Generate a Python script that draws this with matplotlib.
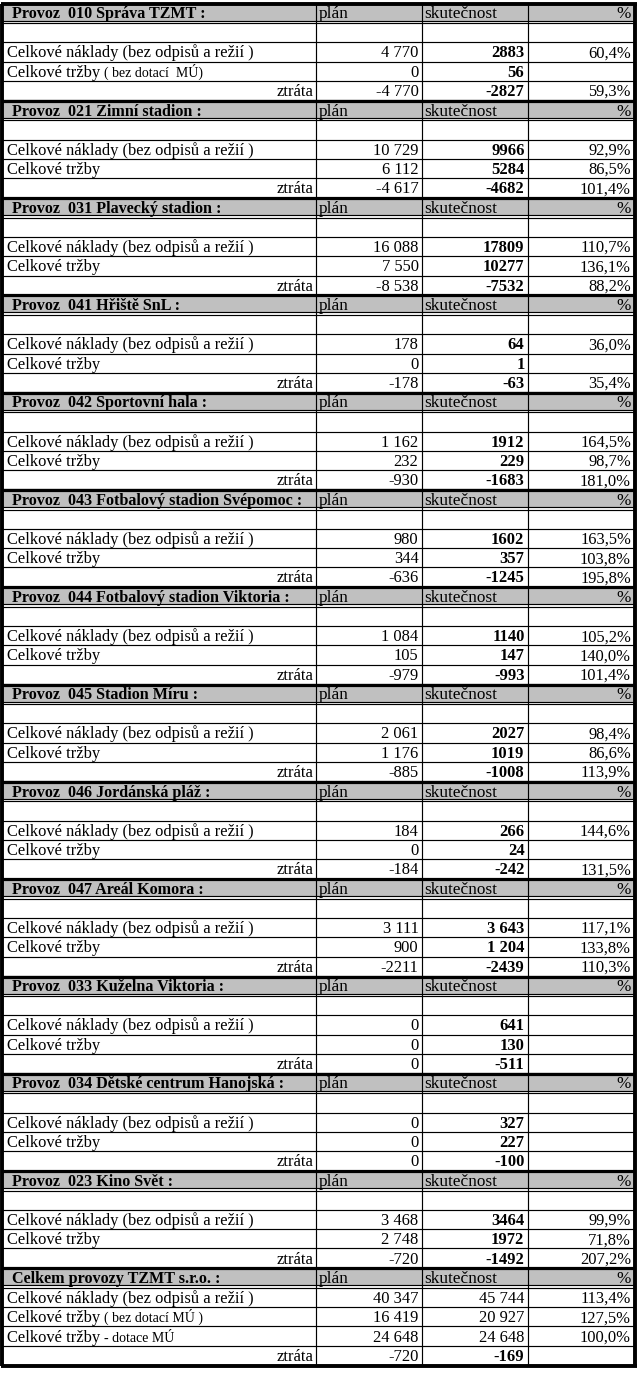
import matplotlib.pyplot as plt

plt.rcParams['font.family'] = ['Liberation Serif', 'DejaVu Serif']

# jednotlivé provozy
provozy = [
    "Provoz  010 Správa TZMT :",
    "Provoz  021 Zimní stadion :",
    "Provoz  031 Plavecký stadion :",
    "Provoz  041 Hřiště SnL :",
    "Provoz  042 Sportovní hala :",
    "Provoz  043 Fotbalový stadion Svépomoc :",
    "Provoz  044 Fotbalový stadion Viktoria :",
    "Provoz  045 Stadion Míru :",
    "Provoz  046 Jordánská pláž :",
    "Provoz  047 Areál Komora :",
    "Provoz  033 Kuželna Viktoria :",
    "Provoz  034 Dětské centrum Hanojská :",
    "Provoz  023 Kino Svět :",
]
naklady_plan = ["4 770", "10 729", "16 088", "178", "1 162", "980", "1 084",
                "2 061", "184", "3 111", "0", "0", "3 468"]
naklady_skut = ["2883", "9966", "17809", "64", "1912", "1602", "1140",
                "2027", "266", "3 643", "641", "327", "3464"]
naklady_pct = ["60,4%", "92,9%", "110,7%", "36,0%", "164,5%", "163,5%", "105,2%",
               "98,4%", "144,6%", "117,1%", "", "", "99,9%"]
trzby_plan = ["0", "6 112", "7 550", "0", "232", "344", "105",
              "1 176", "0", "900", "0", "0", "2 748"]
trzby_skut = ["56", "5284", "10277", "1", "229", "357", "147",
              "1019", "24", "1 204", "130", "227", "1972"]
trzby_pct = ["", "86,5%", "136,1%", "", "98,7%", "103,8%", "140,0%",
             "86,6%", "", "133,8%", "", "", "71,8%"]
ztrata_plan = ["-4 770", "-4 617", "-8 538", "-178", "-930", "-636", "-979",
               "-885", "-184", "-2211", "0", "0", "-720"]
ztrata_skut = ["-2827", "-4682", "-7532", "-63", "-1683", "-1245", "-993",
               "-1008", "-242", "-2439", "-511", "-100", "-1492"]
ztrata_pct = ["59,3%", "101,4%", "88,2%", "35,4%", "181,0%", "195,8%", "101,4%",
              "113,9%", "131,5%", "110,3%", "", "", "207,2%"]

# celkem za TZMT
celkem_nazev = "Celkem provozy TZMT s.r.o. :"
celkem_radky = [("Celkové náklady (bez odpisů a režií )", ""),
                ("Celkové tržby ", "( bez dotací MÚ )"),
                ("Celkové tržby ", "- dotace MÚ"),
                ("ztráta", "")]
celkem_plan = ["40 347", "16 419", "24 648", "-720"]
celkem_skut = ["45 744", "20 927", "24 648", "-169"]
celkem_pct = ["113,4%", "127,5%", "100,0%", ""]

W, H = 639, 1374
fig = plt.figure(figsize=(W / 100, H / 100), dpi=100)
ax = fig.add_axes([0, 0, 1, 1])
ax.set_xlim(0, W)
ax.set_ylim(H, 0)
ax.axis('off')

x_left, x_right = 2, 635
cols = [316, 421.5, 527.5]
top = 3.5
sec_h = 97.3
head_h = 17
row_h = 19.3
thin = 0.85
thick = 2.3
fs = 11.9
fs_title = 11.6
fs_head = 12.4
fs_small = 10.0
gray = '#c0c0c0'


def header(y0, title):
    ax.fill_between([x_left, x_right], y0, y0 + head_h, color=gray, lw=0, zorder=0)
    yb = y0 + head_h - 2.3
    ax.text(12, yb, title, fontsize=fs_title, fontweight='bold', va='baseline')
    ax.text(cols[0] + 3, yb, "plán", fontsize=fs_head, va='baseline')
    ax.text(cols[1] + 3, yb, "skutečnost", fontsize=fs_head, va='baseline')
    ax.text(x_right - 4, yb, "%", fontsize=fs_head, va='baseline', ha='right')
    ax.hlines([y0 + head_h, y0 + head_h + 2.5], x_left, x_right, color='black', lw=thin)


def row(y0, label, small, plan, skut, pct, bold_skut=True):
    yb = y0 + row_h - 4.2
    if label == "ztráta":
        ax.text(cols[0] - 3, yb, label, fontsize=fs, va='baseline', ha='right')
    elif label:
        t = ax.text(7, yb, label, fontsize=fs, va='baseline')
        if small:
            ax.annotate(small, xy=(1, yb), xycoords=(t, 'data'),
                        fontsize=fs_small, va='baseline')
    ax.text(cols[1] - 3, yb, plan, fontsize=fs, va='baseline', ha='right')
    ax.text(cols[2] - 3, yb, skut, fontsize=fs, va='baseline', ha='right',
            fontweight='bold' if bold_skut else 'normal')
    ax.text(x_right - 4, yb, pct, fontsize=fs, va='baseline', ha='right')
    ax.hlines(y0 + row_h, x_left, x_right, color='black', lw=thin)


for i, nazev in enumerate(provozy):
    y0 = top + i * sec_h
    header(y0, nazev)
    ys = y0 + head_h + 2.5
    small = "( bez dotací  MÚ)" if i == 0 else ""
    row(ys, "", "", "", "", "")
    row(ys + row_h, "Celkové náklady (bez odpisů a režií )", "",
        naklady_plan[i], naklady_skut[i], naklady_pct[i])
    row(ys + 2 * row_h, "Celkové tržby ", small,
        trzby_plan[i], trzby_skut[i], trzby_pct[i])
    row(ys + 3 * row_h, "ztráta", "",
        ztrata_plan[i], ztrata_skut[i], ztrata_pct[i])

y0 = top + len(provozy) * sec_h
header(y0, celkem_nazev)
ys = y0 + head_h + 2.5
for j, (lab, small) in enumerate(celkem_radky):
    row(ys + j * row_h, lab, small, celkem_plan[j], celkem_skut[j], celkem_pct[j],
        bold_skut=(lab == "ztráta"))
bottom = y0 + sec_h

# vertical grid and borders
ax.vlines(cols, top, bottom, color='black', lw=thin)
seps = [top + i * sec_h for i in range(1, len(provozy) + 1)]
ax.hlines(seps, x_left, x_right, color='black', lw=thick)
ax.hlines([top, bottom], x_left - 1.5, x_right + 1.5, color='black', lw=thick + 0.5)
ax.vlines([x_left, x_right], top, bottom, color='black', lw=thick + 0.5)

fig.savefig('out.png', dpi=100)
